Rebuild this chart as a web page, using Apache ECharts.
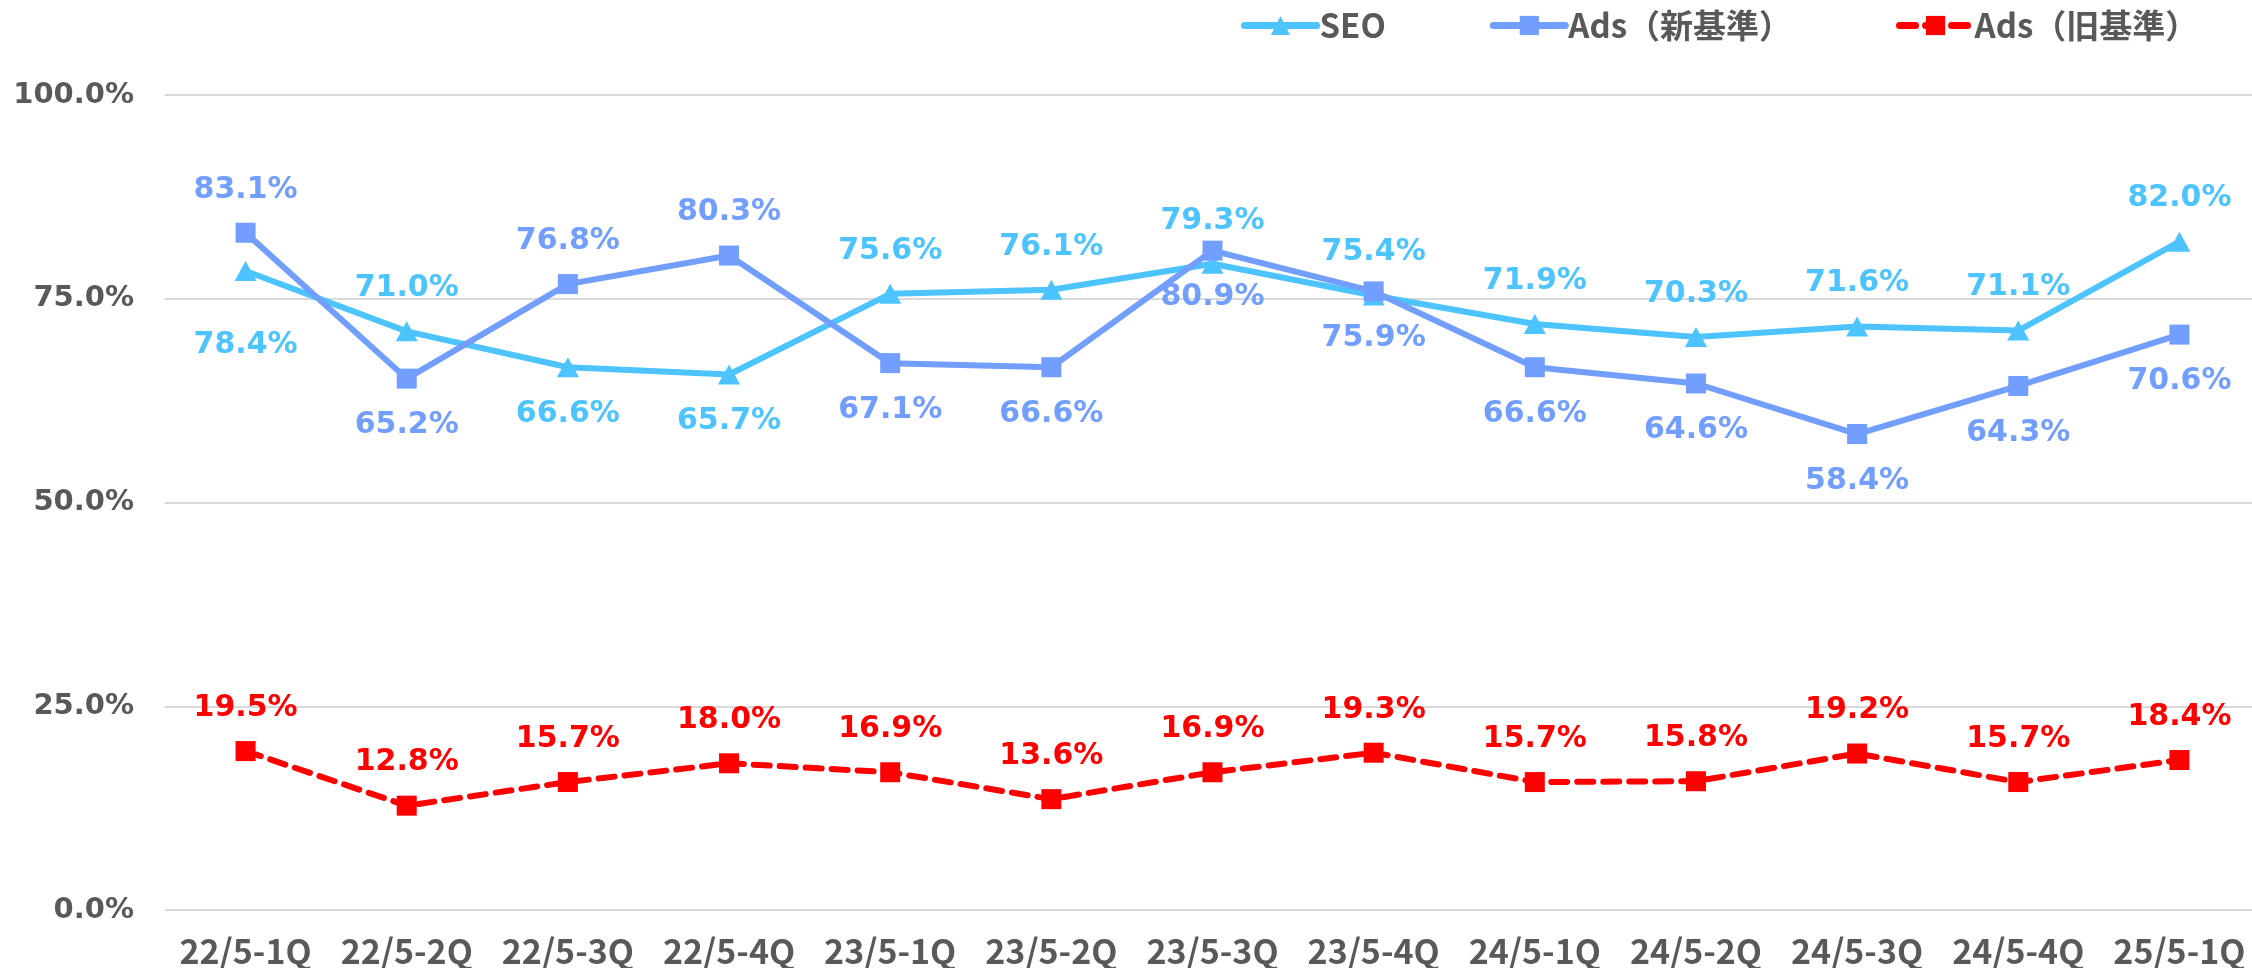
<!DOCTYPE html>
<html>
<head>
<meta charset="utf-8">
<script src="https://cdn.jsdelivr.net/npm/echarts@6/dist/echarts.min.js"></script>
<style>
  html, body { margin: 0; padding: 0; background: #fff; }
  #chart { width: 2252px; height: 968px; }
</style>
</head>
<body>
<div id="chart"></div>
<script>
const categories = ["22/5-1Q", "22/5-2Q", "22/5-3Q", "22/5-4Q", "23/5-1Q", "23/5-2Q", "23/5-3Q",
  "23/5-4Q", "24/5-1Q", "24/5-2Q", "24/5-3Q", "24/5-4Q", "25/5-1Q"];
const seoValues = [78.4, 71.0, 66.6, 65.7, 75.6, 76.1, 79.3, 75.4, 71.9, 70.3, 71.6, 71.1, 82.0];
const adsNewValues = [83.1, 65.2, 76.8, 80.3, 67.1, 66.6, 80.9, 75.9, 66.6, 64.6, 58.4, 64.3, 70.6];
const adsOldValues = [19.5, 12.8, 15.7, 18.0, 16.9, 13.6, 16.9, 19.3, 15.7, 15.8, 19.2, 15.7, 18.4];
const yTicks = [0, 25, 50, 75, 100];

// which points have their label under the marker
const seoBelow = [0, 2, 3];
const adsNewBelow = [1, 4, 5, 6, 7, 8, 9, 10, 11, 12];

const SEO_COLOR = "#4dc3ff";
const ADS_NEW_COLOR = "#719eff";
const ADS_OLD_COLOR = "#ff0000";
const labelFont = "'DejaVu Sans', Verdana, sans-serif";
const narrowFont = "'Noto Sans CJK JP', 'Noto Sans', sans-serif";

function makeData(values, below) {
  return values.map((v, i) => {
    const isBelow = below.includes(i);
    return {
      value: v,
      label: {
        position: isBelow ? "bottom" : "top",
        distance: isBelow ? 22 : 18,
      },
    };
  });
}

const seoData = makeData(seoValues, seoBelow);
// first SEO label sits further down in the original
seoData[0].label.distance = 49;
const adsNewData = makeData(adsNewValues, adsNewBelow);
const adsOldData = makeData(adsOldValues, []);

function labelStyle(color) {
  return {
    show: true,
    color: color,
    fontFamily: labelFont,
    fontWeight: "bold",
    fontSize: 30,
    formatter: (p) => p.value.toFixed(1) + "%",
  };
}

const chart = echarts.init(document.getElementById("chart"), null, { renderer: "canvas" });

const option = {
  animation: false,
  backgroundColor: "#fff",
  legend: {
    top: 4,
    left: 1236,
    itemWidth: 72,
    itemHeight: 24,
    itemGap: 104,
    lineStyle: { width: 7, cap: "round" },
    textStyle: {
      fontFamily: narrowFont,
      fontWeight: "bold",
      fontSize: 33,
      color: "#595959",
      padding: [0, 0, 0, -2],
    },
    data: ["SEO", "Ads（新基準）", "Ads（旧基準）"],
  },
  grid: {
    left: 165,
    width: 2095,
    top: 95,
    bottom: 58,
    containLabel: false,
    outerBoundsMode: "none",
  },
  xAxis: {
    type: "category",
    data: categories,
    boundaryGap: true,
    axisLine: { show: false },
    axisTick: { show: false },
    axisLabel: {
      interval: 0,
      margin: 24,
      color: "#595959",
      fontFamily: narrowFont,
      fontWeight: "bold",
      fontSize: 34,
    },
  },
  yAxis: {
    type: "value",
    min: yTicks[0],
    max: yTicks[yTicks.length - 1],
    interval: 25,
    axisLine: { show: false },
    axisTick: { show: false },
    splitLine: { lineStyle: { color: "#d9d9d9", width: 2 } },
    axisLabel: {
      margin: 31,
      color: "#595959",
      fontFamily: labelFont,
      fontWeight: "bold",
      fontSize: 29,
      formatter: (v) => v.toFixed(1) + "%",
    },
  },
  series: [
    {
      name: "SEO",
      type: "line",
      z: 2,
      data: seoData,
      symbol: "triangle",
      symbolSize: [22, 20],
      lineStyle: { color: SEO_COLOR, width: 6 },
      itemStyle: { color: SEO_COLOR },
      label: labelStyle(SEO_COLOR),
    },
    {
      name: "Ads（新基準）",
      type: "line",
      z: 3,
      data: adsNewData,
      symbol: "rect",
      symbolSize: 20,
      lineStyle: { color: ADS_NEW_COLOR, width: 6 },
      itemStyle: { color: ADS_NEW_COLOR },
      label: labelStyle(ADS_NEW_COLOR),
    },
    {
      name: "Ads（旧基準）",
      type: "line",
      z: 4,
      data: adsOldData,
      symbol: "rect",
      symbolSize: 20,
      lineStyle: { color: ADS_OLD_COLOR, width: 6, type: [16, 10], cap: "round" },
      itemStyle: { color: ADS_OLD_COLOR },
      label: labelStyle(ADS_OLD_COLOR),
    },
  ],
};

chart.setOption(option);
</script>
</body>
</html>
